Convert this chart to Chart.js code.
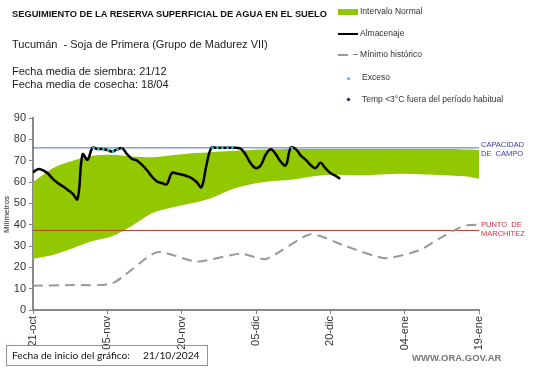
<!DOCTYPE html>
<html>
<head>
<meta charset="utf-8">
<script src="https://cdn.jsdelivr.net/npm/chart.js@4"></script>
<style>
  body { margin: 0; background: #fff; }
  #wrap { position: relative; width: 541px; height: 368px; font-family: "Liberation Sans", Arial, sans-serif; overflow: hidden; }
  #graf { position: absolute; left: 0; top: 0; }
  .t { position: absolute; white-space: nowrap; color: #222; }
  .leg { position: absolute; font-size: 8.5px; color: #333; white-space: nowrap; }
</style>
</head>
<body>
<div id="wrap">
  <canvas id="graf" width="541" height="368"></canvas>

  <div class="t" style="left:12px; top:9px; font-size:9.3px; font-weight:bold; color:#111;">SEGUIMIENTO DE LA RESERVA SUPERFICIAL DE AGUA EN EL SUELO</div>
  <div class="t" style="left:12px; top:38px; font-size:11px;">Tucumán &nbsp;- Soja de Primera (Grupo de Madurez VII)</div>
  <div class="t" style="left:12px; top:65px; font-size:11px; line-height:13px;">Fecha media de siembra: 21/12<br>Fecha media de cosecha: 18/04</div>

  <!-- leyenda -->
  <div style="position:absolute; left:338px; top:9px; width:20px; height:6px; background:#92c800;"></div>
  <div class="leg" style="left:360px; top:6px;">Intervalo Normal</div>
  <div style="position:absolute; left:338px; top:33px; width:20px; height:2px; background:#000;"></div>
  <div class="leg" style="left:360px; top:28px;">Almacenaje</div>
  <div style="position:absolute; left:338px; top:54px; width:10px; height:1.5px; background:#999;"></div>
  <div class="leg" style="left:353px; top:49px;">– Mínimo histórico</div>
  <div style="position:absolute; left:347px; top:77px; width:3px; height:3px; border-radius:50%; background:#33ccdd;"></div>
  <div class="leg" style="left:362px; top:72px;">Exceso</div>
  <div style="position:absolute; left:347px; top:98px; width:3px; height:3px; background:#1a1a8c; transform:rotate(45deg);"></div>
  <div class="leg" style="left:362px; top:94px;">Temp &lt;3°C fuera del período habitual</div>

  <!-- etiquetas de las lineas de referencia -->
  <div class="t" style="left:481px; top:140px; font-size:7.5px; line-height:9px; color:#3a3aa8;">CAPACIDAD<br>DE &nbsp;CAMPO</div>
  <div class="t" style="left:481px; top:220px; font-size:7.5px; line-height:9px; color:#cc3344;">PUNTO &nbsp;DE<br>MARCHITEZ</div>

  <div class="t" style="left:-12px; top:210px; font-size:8px; transform:rotate(-90deg);">Milímetros</div>

  <div style="position:absolute; left:6px; top:345px; width:200px; height:19px; border:1px solid #a08c8c;"></div>
  <div class="t" style="left:12px; top:349px; font-family:Lato, sans-serif; font-size:10.2px; color:#111;">Fecha de inicio del gráfico:</div>
  <div class="t" style="left:143px; top:349px; font-family:Lato, sans-serif; font-size:10.2px; color:#111;">21/10/2024</div>
  <div class="t" style="left:412px; top:352px; font-size:9.5px; font-weight:bold; color:#777;">WWW.ORA.GOV.AR</div>
</div>

<script>
// dias desde el 21/10/2024
const tickLabels = ['21-oct', '05-nov', '20-nov', '05-dic', '20-dic', '04-ene', '19-ene'];

// intervalo normal (banda verde)
const bandaDias = [0, 4, 8, 12, 16, 20, 24, 28, 32, 36, 40, 44, 48, 52, 56, 60, 64, 68, 72, 76, 80, 84, 88, 90];
const bandaSup  = [60, 66.5, 70, 72.3, 72.8, 72, 71.6, 72.5, 73.5, 74, 74.5, 75, 75.3, 75.5, 75.5, 75.5, 75.5, 75.5, 75.5, 75.5, 75.5, 75.5, 75.2, 75];
const bandaInf  = [24, 25.8, 29, 32.3, 34.6, 39.5, 45.3, 48, 50, 52.5, 56.5, 59, 60.3, 61, 62.5, 63.4, 63.2, 63.2, 63.7, 63.8, 63.5, 63, 62.5, 61.5];

// almacenaje diario (dia 0 a 62)
const almacenaje = [
  64.5, 66, 65.5, 64, 61.5, 59.5, 58, 56.3, 54.5, 52,
  73, 70.4, 76, 75.5, 75.5, 75, 74.3, 75.3, 75.8, 73,
  70.8, 70, 68, 65.5, 62.5, 60.3, 59.5, 59, 64.2, 64,
  63.5, 62.8, 61.8, 60, 57.6, 68, 76, 76, 76, 76,
  76, 76, 75.5, 72.5, 68.5, 66.5, 68, 73, 75.4, 73,
  69.5, 67.8, 76, 75.5, 72.5, 70.5, 68, 66.5, 69, 66.5,
  64.2, 63, 61.5
];

// dias con exceso (almacenaje en capacidad de campo)
const excesoDias = [[12, 13, 14, 15, 16, 17, 18], [36, 37, 38, 39, 40, 41], [52, 53]];

// minimo historico
const minDias = [0, 8, 16, 25, 33, 42, 47, 56, 63, 71, 78, 82, 86, 88, 90];
const minVals = [11.4, 11.7, 12.5, 27.1, 22.7, 26.4, 23.9, 35.5, 30, 24.3, 28, 33.5, 38.5, 39.8, 40];

const capacidadCampo = 76;
const puntoMarchitez = 37.3;
const diaFinal = 90;

function pares(xs, ys) { return xs.map((x, i) => ({ x: x, y: ys[i] })); }

const datasets = [
  { label: 'sup', data: pares(bandaDias, bandaSup), borderWidth: 0, pointRadius: 0, fill: '+1', backgroundColor: '#92c800', tension: 0.3, order: 10 },
  { label: 'inf', data: pares(bandaDias, bandaInf), borderWidth: 0, pointRadius: 0, fill: false, tension: 0.3, order: 11 },
  { label: 'cap', data: [{ x: 0, y: capacidadCampo }, { x: diaFinal, y: capacidadCampo }], borderColor: '#4f6fcc', borderWidth: 1, pointRadius: 0, order: 5 },
  { label: 'marc', data: [{ x: 0, y: puntoMarchitez }, { x: diaFinal, y: puntoMarchitez }], borderColor: '#c0392b', borderWidth: 1, pointRadius: 0, order: 5 },
  { label: 'min', data: pares(minDias, minVals), borderColor: '#999', borderWidth: 2, borderDash: [10, 6], pointRadius: 0, tension: 0.2, order: 4 },
  { label: 'Almacenaje', data: almacenaje.map((v, i) => ({ x: i, y: v })), borderColor: '#000', borderWidth: 2.5, pointRadius: 0, tension: 0.4, order: 2 }
];
excesoDias.forEach(tramo => {
  datasets.push({ label: 'Exceso', data: tramo.map(d => ({ x: d, y: almacenaje[d] })), borderColor: '#33ccdd', borderWidth: 2.5, borderDash: [2, 3], pointRadius: 0, tension: 0.4, order: 1 });
});

new Chart(document.getElementById('graf'), {
  type: 'line',
  data: { datasets: datasets },
  options: {
    responsive: false,
    animation: false,
    layout: { padding: { top: 118, right: 62, left: 0, bottom: 0 } },
    plugins: { legend: { display: false }, tooltip: { enabled: false } },
    scales: {
      x: {
        type: 'linear', min: 0, max: diaFinal,
        grid: { drawOnChartArea: false, color: '#888', tickLength: 4 },
        border: { color: '#888', width: 2 },
        ticks: {
          stepSize: 15, maxRotation: 90, minRotation: 90, padding: 2,
          color: '#333', font: { family: 'Liberation Sans', size: 11 },
          callback: v => tickLabels[v / 15]
        },
        afterFit: s => { s.height = 58; s.paddingLeft = 0; s.paddingRight = 0; }
      },
      y: {
        min: 0, max: 90,
        grid: { drawOnChartArea: false, color: '#888', tickLength: 4 },
        border: { color: '#888', width: 2 },
        ticks: { stepSize: 10, padding: 3, color: '#333', font: { family: 'Liberation Sans', size: 11 } },
        afterFit: s => { s.width = 33; }
      }
    }
  }
});
</script>
</body>
</html>
